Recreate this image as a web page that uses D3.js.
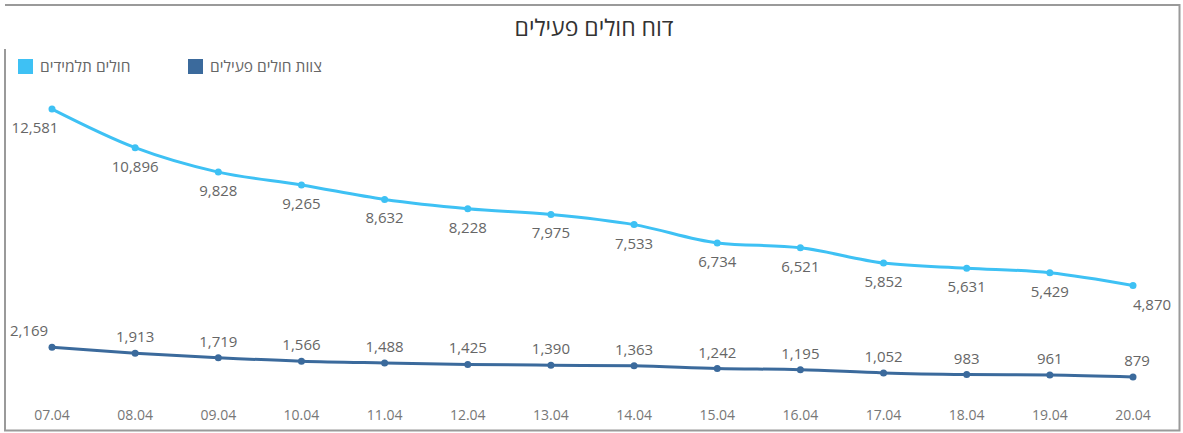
<!DOCTYPE html>
<html>
<head>
<meta charset="utf-8">
<script src="https://cdn.jsdelivr.net/npm/d3@7"></script>
<style>
  body { margin: 0; background: #fff; }
  text { font-family: "Open Sans", "DejaVu Sans", sans-serif; }
</style>
</head>
<body>
<div id="chart"></div>
<script>
const dates = ["07.04", "08.04", "09.04", "10.04", "11.04", "12.04", "13.04",
  "14.04", "15.04", "16.04", "17.04", "18.04", "19.04", "20.04"];
const students = [12581, 10896, 9828, 9265, 8632, 8228, 7975, 7533, 6734, 6521, 5852, 5631, 5429, 4870];
const staff = [2169, 1913, 1719, 1566, 1488, 1425, 1390, 1363, 1242, 1195, 1052, 983, 961, 879];
const seriesNames = ["חולים תלמידים", "צוות חולים פעילים"];
const titleText = "דוח חולים פעילים";

const W = 1183, H = 433;
const colors = ["#3ec1f4", "#3b6a9c"];

let svg = d3.select("#chart").append("svg")
  .attr("width", W)
  .attr("height", H);

// frame
svg.append("path")
  .attr("d", "M5,49 L5,430.5 L1179.5,430.5 L1179.5,5 L5,5")
  .attr("fill", "none")
  .attr("stroke", "#9a9a9a")
  .attr("stroke-width", 2);

svg.append("text")
  .attr("x", 594)
  .attr("y", 36)
  .attr("text-anchor", "middle")
  .attr("font-size", 23)
  .attr("fill", "#333")
  .text(titleText);

// legend
const legendX = [18, 188];
seriesNames.forEach((name, i) => {
  svg.append("rect")
    .attr("x", legendX[i])
    .attr("y", 59)
    .attr("width", 15)
    .attr("height", 15)
    .attr("fill", colors[i]);
  svg.append("text")
    .attr("x", legendX[i] + 22)
    .attr("y", 72)
    .attr("font-size", 15.5)
    .attr("fill", "#666")
    .text(name);
});

let x = d3.scalePoint().domain(dates).range([52, 1133]);
let y = d3.scaleLinear().domain([0, 13000]).range([397, 99.5]);

// x axis labels
svg.append("g")
  .selectAll("text")
  .data(dates)
  .join("text")
  .attr("x", (d) => x(d))
  .attr("y", 420)
  .attr("text-anchor", "middle")
  .attr("font-size", 14)
  .attr("fill", "#777")
  .text((d) => d);

const line = d3.line()
  .x((d, i) => x(dates[i]))
  .y((d) => y(d))
  .curve(d3.curveMonotoneX);

const fmt = d3.format(",");

[students, staff].forEach((values, s) => {
  let g = svg.append("g");
  g.append("path")
    .attr("d", line(values))
    .attr("fill", "none")
    .attr("stroke", colors[s])
    .attr("stroke-width", 3);
  g.selectAll("circle")
    .data(values)
    .join("circle")
    .attr("cx", (d, i) => x(dates[i]))
    .attr("cy", (d) => y(d))
    .attr("r", 3.5)
    .attr("fill", colors[s]);
  g.selectAll("text")
    .data(values)
    .join("text")
    .attr("x", (d, i) => {
      let px = x(dates[i]);
      if (i === 0) return px - (s === 0 ? 17 : 23);
      if (i === values.length - 1) return px + (s === 0 ? 19 : 4);
      return px;
    })
    .attr("y", (d) => y(d) + (s === 0 ? 24 : -11))
    .attr("text-anchor", "middle")
    .attr("font-size", 15)
    .attr("fill", "#666")
    .text((d) => fmt(d));
});
</script>
</body>
</html>
